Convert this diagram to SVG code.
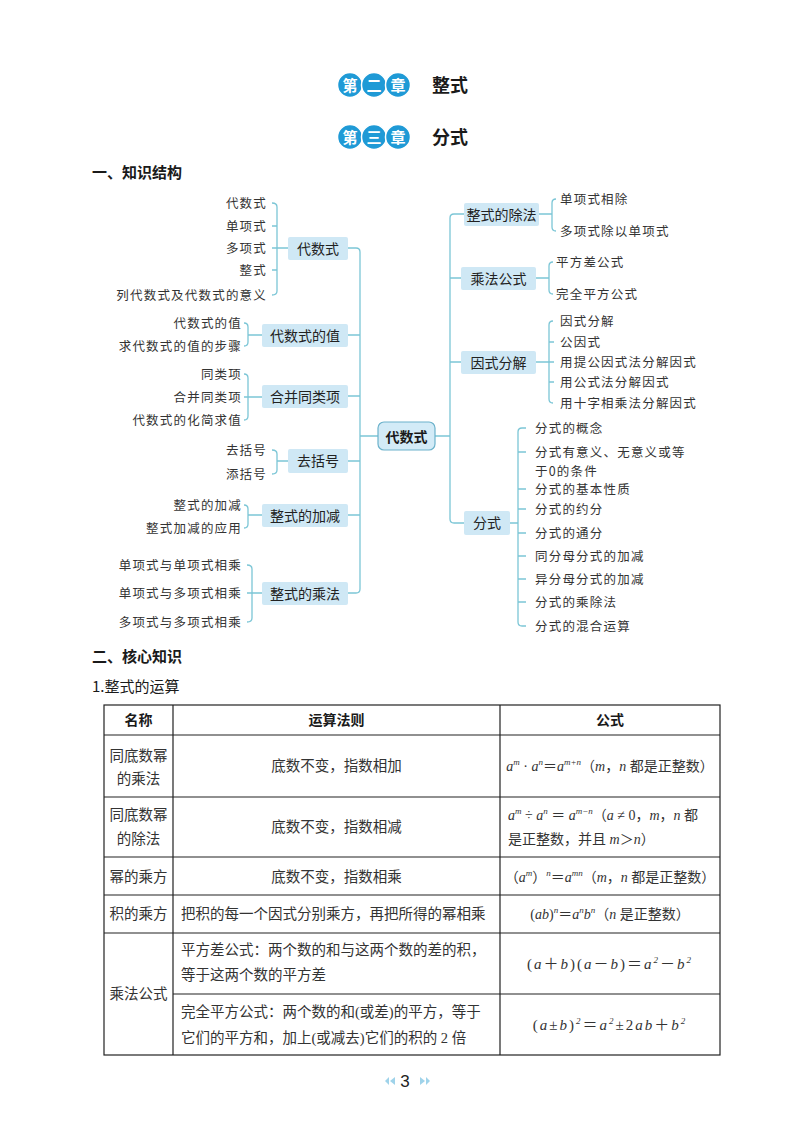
<svg xmlns="http://www.w3.org/2000/svg" width="791" height="1146" viewBox="0 0 791 1146">
<style>
.bg{fill:#ffffff}
.ci{fill:#1f9ad6;stroke:#ffffff;stroke-width:1.5}
.ct{font-family:"Noto Sans CJK SC",sans-serif;font-size:15px;font-weight:bold;fill:#ffffff}
.ttl{font-family:"Noto Sans CJK SC",sans-serif;font-size:18px;font-weight:bold;fill:#1a1a1a}
.sec{font-family:"Noto Sans CJK SC",sans-serif;font-size:15px;font-weight:bold;fill:#1a1a1a}
.sub{font-family:"Noto Sans CJK SC",sans-serif;font-size:15px;fill:#1a1a1a}
.ln{fill:none;stroke:#7cc6d6;stroke-width:1.3}
.nb{fill:#cfe8f5}
.rb{fill:#d3ebf7;stroke:#6cb2cb;stroke-width:1.2}
.nt{font-family:"Noto Sans CJK SC",sans-serif;font-size:14px;fill:#222222}
.rt{font-family:"Noto Sans CJK SC",sans-serif;font-size:14px;font-weight:bold;fill:#1a1a1a}
.lf{font-family:"Noto Sans CJK SC",sans-serif;font-size:12.5px;letter-spacing:1.2px;fill:#333333}
.tb{fill:none;stroke:#222222;stroke-width:1.2}
.th{font-family:"Noto Sans CJK SC",sans-serif;font-size:14px;font-weight:bold;fill:#1a1a1a}
.tc{font-family:"Liberation Serif","Noto Sans CJK SC",serif;font-size:14.5px;fill:#333333}
.fm{font-family:"Liberation Serif","Noto Sans CJK SC",serif;font-size:14px;fill:#333333}
.wide{font-size:15px;letter-spacing:2px}
.i{font-style:italic}
.s{font-size:9px;font-style:italic}
.pg{font-family:"Liberation Sans",sans-serif;font-size:17px;fill:#222222}
.ar{fill:#9fd3ea}
</style>
<rect class="bg" x="0" y="0" width="791" height="1146"/>

<g id="header">
  <circle class="ci" cx="350" cy="85" r="12.5"/>
  <circle class="ci" cx="374" cy="85" r="12.5"/>
  <circle class="ci" cx="398" cy="85" r="12.5"/>
  <text class="ct" x="350" y="90.5" text-anchor="middle">第</text>
  <text class="ct" x="374" y="90.5" text-anchor="middle">二</text>
  <text class="ct" x="398" y="90.5" text-anchor="middle">章</text>
  <text class="ttl" x="432" y="92">整式</text>
  <circle class="ci" cx="350" cy="137" r="12.5"/>
  <circle class="ci" cx="374" cy="137" r="12.5"/>
  <circle class="ci" cx="398" cy="137" r="12.5"/>
  <text class="ct" x="350" y="142.5" text-anchor="middle">第</text>
  <text class="ct" x="374" y="142.5" text-anchor="middle">三</text>
  <text class="ct" x="398" y="142.5" text-anchor="middle">章</text>
  <text class="ttl" x="432" y="144">分式</text>
</g>

<text class="sec" x="92" y="178">一、知识结构</text>

<g id="connectors">
  <path class="ln" d="M348,248 H356 Q360,248 360,252 V589 Q360,593 356,593 H348 M348,335 H360 M348,396 H360 M348,461 H360 M348,515 H360 M360,436 H378"/>
  <path class="ln" d="M464,214 H454 Q450,214 450,218 V519 Q450,523 454,523 H464 M450,278 H461 M450,362 H461 M435,436 H450"/>
  <path class="ln" d="M272,203 Q277,203 277,207 V291 Q277,295 272,295 M272,226 H277 M272,248 H288 M272,270 H277"/>
  <path class="ln" d="M244,323 Q248,323 248,327 V342 Q248,346 244,346 M248,335 H262"/>
  <path class="ln" d="M244,374 Q248,374 248,378 V416 Q248,420 244,420 M244,397 H262"/>
  <path class="ln" d="M272,450 Q277,450 277,454 V470 Q277,474 272,474 M277,461 H288"/>
  <path class="ln" d="M244,505 Q248,505 248,509 V524 Q248,528 244,528 M248,515 H262"/>
  <path class="ln" d="M247,565 Q252,565 252,569 V618 Q252,622 247,622 M247,593 H262"/>
  <path class="ln" d="M539,214 H552 M556,199 Q552,199 552,203 V227 Q552,231 556,231"/>
  <path class="ln" d="M536,278 H549 M553,262 Q549,262 549,266 V290 Q549,294 553,294"/>
  <path class="ln" d="M553,321 Q549,321 549,325 V399 Q549,403 553,403 M549,342 H554 M536,362 H554 M549,382 H554"/>
  <path class="ln" d="M526,428 H522 Q518,428 518,432 V622 Q518,626 522,626 H526 M518,452 H526 M518,489 H526 M518,509 H526 M518,533 H526 M518,556 H526 M518,579 H526 M518,602 H526 M510,523 H518"/>
</g>

<g id="root">
  <rect class="rb" x="378" y="422" width="57" height="28" rx="6"/>
  <text class="rt" x="406.5" y="441.5" text-anchor="middle">代数式</text>
</g>

<g id="n-daishushi">
  <rect class="nb" x="288" y="237" width="60" height="23" rx="2"/>
  <text class="nt" x="318" y="253.5" text-anchor="middle">代数式</text>
  <g class="lf" text-anchor="end">
    <text x="267" y="208">代数式</text>
    <text x="267" y="231">单项式</text>
    <text x="267" y="253">多项式</text>
    <text x="267" y="275">整式</text>
    <text x="267" y="300">列代数式及代数式的意义</text>
  </g>
</g>

<g id="n-zhi">
  <rect class="nb" x="262" y="324" width="86" height="23" rx="2"/>
  <text class="nt" x="305" y="340.5" text-anchor="middle">代数式的值</text>
  <g class="lf" text-anchor="end">
    <text x="242" y="328">代数式的值</text>
    <text x="242" y="351">求代数式的值的步骤</text>
  </g>
</g>

<g id="n-hebing">
  <rect class="nb" x="262" y="385" width="86" height="23" rx="2"/>
  <text class="nt" x="305" y="401.5" text-anchor="middle">合并同类项</text>
  <g class="lf" text-anchor="end">
    <text x="242" y="379">同类项</text>
    <text x="242" y="402">合并同类项</text>
    <text x="242" y="425">代数式的化简求值</text>
  </g>
</g>

<g id="n-qukuohao">
  <rect class="nb" x="288" y="449" width="60" height="24" rx="2"/>
  <text class="nt" x="318" y="466" text-anchor="middle">去括号</text>
  <g class="lf" text-anchor="end">
    <text x="267" y="455">去括号</text>
    <text x="267" y="479">添括号</text>
  </g>
</g>

<g id="n-jiajian">
  <rect class="nb" x="262" y="504" width="86" height="23" rx="2"/>
  <text class="nt" x="305" y="520.5" text-anchor="middle">整式的加减</text>
  <g class="lf" text-anchor="end">
    <text x="242" y="510">整式的加减</text>
    <text x="242" y="533">整式加减的应用</text>
  </g>
</g>

<g id="n-chengfa">
  <rect class="nb" x="262" y="582" width="86" height="23" rx="2"/>
  <text class="nt" x="305" y="598.5" text-anchor="middle">整式的乘法</text>
  <g class="lf" text-anchor="end">
    <text x="242" y="570">单项式与单项式相乘</text>
    <text x="242" y="598">单项式与多项式相乘</text>
    <text x="242" y="627">多项式与多项式相乘</text>
  </g>
</g>

<g id="n-chufa">
  <rect class="nb" x="464" y="203" width="75" height="23" rx="2"/>
  <text class="nt" x="501.5" y="219.5" text-anchor="middle">整式的除法</text>
  <g class="lf">
    <text x="560" y="204">单项式相除</text>
    <text x="560" y="236">多项式除以单项式</text>
  </g>
</g>

<g id="n-gongshi">
  <rect class="nb" x="461" y="267" width="75" height="23" rx="2"/>
  <text class="nt" x="498.5" y="283.5" text-anchor="middle">乘法公式</text>
  <g class="lf">
    <text x="556" y="267">平方差公式</text>
    <text x="556" y="299">完全平方公式</text>
  </g>
</g>

<g id="n-yinshi">
  <rect class="nb" x="461" y="351" width="75" height="23" rx="2"/>
  <text class="nt" x="498.5" y="367.5" text-anchor="middle">因式分解</text>
  <g class="lf">
    <text x="560" y="326">因式分解</text>
    <text x="560" y="347">公因式</text>
    <text x="560" y="367">用提公因式法分解因式</text>
    <text x="560" y="387">用公式法分解因式</text>
    <text x="560" y="408">用十字相乘法分解因式</text>
  </g>
</g>

<g id="n-fenshi">
  <rect class="nb" x="464" y="511" width="46" height="24" rx="2"/>
  <text class="nt" x="487" y="528" text-anchor="middle">分式</text>
  <g class="lf">
    <text x="535" y="433">分式的概念</text>
    <text x="535" y="457">分式有意义、无意义或等</text>
    <text x="535" y="476">于0的条件</text>
    <text x="535" y="494">分式的基本性质</text>
    <text x="535" y="514">分式的约分</text>
    <text x="535" y="538">分式的通分</text>
    <text x="535" y="561">同分母分式的加减</text>
    <text x="535" y="584">异分母分式的加减</text>
    <text x="535" y="607">分式的乘除法</text>
    <text x="535" y="631">分式的混合运算</text>
  </g>
</g>

<text class="sec" x="92" y="662">二、核心知识</text>
<text class="sub" x="92" y="692">1.整式的运算</text>

<g id="table">
  <rect class="tb" x="104" y="705" width="616" height="350"/>
  <path class="tb" d="M173,705 V1055 M500,705 V1055 M104,735 H720 M104,797 H720 M104,857 H720 M104,895 H720 M104,933 H720 M173,994 H720"/>
  <text class="th" x="138.5" y="725" text-anchor="middle">名称</text>
  <text class="th" x="336.5" y="725" text-anchor="middle">运算法则</text>
  <text class="th" x="610" y="725" text-anchor="middle">公式</text>

  <text class="tc" x="138.5" y="761" text-anchor="middle">同底数幂</text>
  <text class="tc" x="138.5" y="784" text-anchor="middle">的乘法</text>
  <text class="tc" x="336.5" y="771" text-anchor="middle">底数不变，指数相加</text>
  <text class="fm" x="610" y="771" text-anchor="middle"><tspan class="i">a</tspan><tspan class="s" dy="-6">m</tspan><tspan dy="6"> · </tspan><tspan class="i">a</tspan><tspan class="s" dy="-6">n</tspan><tspan dy="6">＝</tspan><tspan class="i">a</tspan><tspan class="s" dy="-6">m+n</tspan><tspan dy="6">（</tspan><tspan class="i">m</tspan>，<tspan class="i">n</tspan> 都是正整数）</text>

  <text class="tc" x="138.5" y="820" text-anchor="middle">同底数幂</text>
  <text class="tc" x="138.5" y="844" text-anchor="middle">的除法</text>
  <text class="tc" x="336.5" y="832" text-anchor="middle">底数不变，指数相减</text>
  <text class="fm" x="508" y="820"><tspan class="i">a</tspan><tspan class="s" dy="-6">m</tspan><tspan dy="6"> ÷ </tspan><tspan class="i">a</tspan><tspan class="s" dy="-6">n</tspan><tspan dy="6"> ＝ </tspan><tspan class="i">a</tspan><tspan class="s" dy="-6">m−n</tspan><tspan dy="6">（</tspan><tspan class="i">a</tspan> ≠ 0，<tspan class="i">m</tspan>，<tspan class="i">n</tspan> 都</text>
  <text class="fm" x="508" y="844">是正整数，并且 <tspan class="i">m</tspan>＞<tspan class="i">n</tspan>）</text>

  <text class="tc" x="138.5" y="882" text-anchor="middle">幂的乘方</text>
  <text class="tc" x="336.5" y="882" text-anchor="middle">底数不变，指数相乘</text>
  <text class="fm" x="610" y="882" text-anchor="middle">（<tspan class="i">a</tspan><tspan class="s" dy="-6">m</tspan><tspan dy="6">）</tspan><tspan class="s" dy="-6">n</tspan><tspan dy="6">＝</tspan><tspan class="i">a</tspan><tspan class="s" dy="-6">mn</tspan><tspan dy="6">（</tspan><tspan class="i">m</tspan>，<tspan class="i">n</tspan> 都是正整数）</text>

  <text class="tc" x="138.5" y="919" text-anchor="middle">积的乘方</text>
  <text class="tc" x="181" y="919">把积的每一个因式分别乘方，再把所得的幂相乘</text>
  <text class="fm" x="610" y="919" text-anchor="middle">(<tspan class="i">ab</tspan>)<tspan class="s" dy="-6">n</tspan><tspan dy="6">＝</tspan><tspan class="i">a</tspan><tspan class="s" dy="-6">n</tspan><tspan class="i" dy="6">b</tspan><tspan class="s" dy="-6">n</tspan><tspan dy="6">（</tspan><tspan class="i">n</tspan> 是正整数）</text>

  <text class="tc" x="138.5" y="999" text-anchor="middle">乘法公式</text>
  <text class="tc" x="181" y="955">平方差公式：两个数的和与这两个数的差的积，</text>
  <text class="tc" x="181" y="980">等于这两个数的平方差</text>
  <text class="fm wide" x="610" y="969" text-anchor="middle">(<tspan class="i">a</tspan>＋<tspan class="i">b</tspan>)(<tspan class="i">a</tspan>－<tspan class="i">b</tspan>)＝<tspan class="i">a</tspan><tspan class="s" dy="-6">2</tspan><tspan dy="6">－</tspan><tspan class="i">b</tspan><tspan class="s" dy="-6">2</tspan></text>
  <text class="tc" x="181" y="1017">完全平方公式：两个数的和(或差)的平方，等于</text>
  <text class="tc" x="181" y="1043">它们的平方和，加上(或减去)它们的积的 2 倍</text>
  <text class="fm wide" x="610" y="1030" text-anchor="middle">(<tspan class="i">a</tspan>±<tspan class="i">b</tspan>)<tspan class="s" dy="-6">2</tspan><tspan dy="6">＝</tspan><tspan class="i">a</tspan><tspan class="s" dy="-6">2</tspan><tspan dy="6">±2</tspan><tspan class="i">ab</tspan>＋<tspan class="i">b</tspan><tspan class="s" dy="-6">2</tspan></text>
</g>

<g id="footer">
  <polygon class="ar" points="389,1077 389,1085 385,1081"/>
  <polygon class="ar" points="395,1077 395,1085 390,1081"/>
  <text class="pg" x="405" y="1087" text-anchor="middle">3</text>
  <polygon class="ar" points="420,1077 420,1085 425,1081"/>
  <polygon class="ar" points="426,1077 426,1085 430,1081"/>
</g>
</svg>
